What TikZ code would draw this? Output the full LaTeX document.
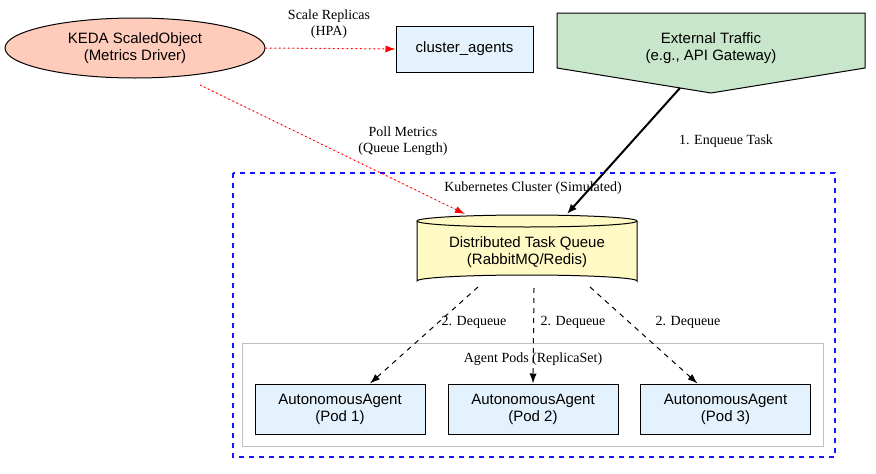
\documentclass[tikz,border=0pt]{standalone}
\usepackage{fontspec}
\setmainfont{Liberation Serif}
\newfontfamily\sansf{Liberation Sans}
\usetikzlibrary{shapes.geometric,arrows.meta}
\definecolor{keda}{HTML}{FFCCBC}
\definecolor{podc}{HTML}{E3F2FD}
\definecolor{ext}{HTML}{C8E6C9}
\definecolor{que}{HTML}{FFF9C4}
\definecolor{clblue}{RGB}{20,20,255}
\definecolor{clred}{HTML}{FF0000}
\definecolor{clgray}{HTML}{C0C0C0}
\begin{document}
\begin{tikzpicture}[x=1pt,y=-1pt,line width=1pt,
  lab/.style={font=\fontsize{14}{16}\selectfont,align=center,inner sep=1pt},
  sf/.style={font=\sansf\fontsize{15}{17}\selectfont,align=center},
  box/.style={draw=black,fill=podc,sf,minimum height=50,inner sep=2pt},
  pod/.style={box,minimum width=170},
  rarr/.style={draw=clred,dash pattern=on 1.5pt off 3pt,-{Latex[length=10pt,width=7pt]},fill=clred},
  deq/.style={draw=black,dash pattern=on 5pt off 5pt,-{Latex[length=10pt,width=7pt]}}]
\useasboundingbox (0,0) rectangle (876,474);
\draw[clblue,line width=1.2pt,dash pattern=on 5pt off 5pt] (233,173) rectangle (835,457);
\node[lab] at (533,188) {Kubernetes Cluster (Simulated)};
\draw[draw=clgray] (242,343) rectangle (823,446);
\node[lab] at (533,359) {Agent Pods (ReplicaSet)};
\node[draw=black,ellipse,fill=keda,minimum width=260,minimum height=60,sf] (keda) at (135,48) {KEDA ScaledObject\\(Metrics Driver)};
\node[box,minimum width=137,minimum height=46] (ca) at (464.5,49) {cluster\_agents};
\draw[draw=black,fill=ext] (557,13) -- (865,13) -- (865,68) -- (711,93) -- (557,68) -- cycle;
\node[sf] (ext) at (711,48) {External Traffic\\(e.g., API Gateway)};
\coordinate (extb) at (680,88);
\draw[draw=black,fill=que] (417,221) -- (417,281) arc[start angle=180,end angle=360,x radius=110,y radius=6] -- (637,221);
\draw[draw=black,fill=que] (527,221) ellipse[x radius=110,y radius=6];
\node[sf] (q) at (527,252) {Distributed Task Queue\\(RabbitMQ/Redis)};
\coordinate (qt1) at (567,214);
\coordinate (qt2) at (465,214);
\coordinate (qb1) at (478,287);
\coordinate (qb2) at (534,288);
\coordinate (qb3) at (590,287);
\coordinate (ks) at (200,85);
\node[pod] (p1) at (340,409) {AutonomousAgent\\(Pod 1)};
\node[pod] (p2) at (533,409) {AutonomousAgent\\(Pod 2)};
\node[pod] (p3) at (725.5,409) {AutonomousAgent\\(Pod 3)};
\draw[deq] (qb1) -- ([xshift=30]p1.north);
\draw[deq] (qb2) -- (p2.north);
\draw[deq] (qb3) -- ([xshift=-28]p3.north);
\node[lab] at (474,322) {2. Dequeue};
\node[lab] at (573,322) {2. Dequeue};
\node[lab] at (688,322) {2. Dequeue};
\draw[draw=black,line width=2pt,-{Latex[length=10pt,width=8pt]}] (extb) -- (qt1);
\node[lab] at (726,141) {1. Enqueue Task};
\draw[rarr] (ks) -- (qt2);
\node[lab] at (403,141) {Poll Metrics\\(Queue Length)};
\draw[rarr] (keda.east) -- (ca.west);
\node[lab] at (329,24) {Scale Replicas\\(HPA)};
\end{tikzpicture}
\end{document}
